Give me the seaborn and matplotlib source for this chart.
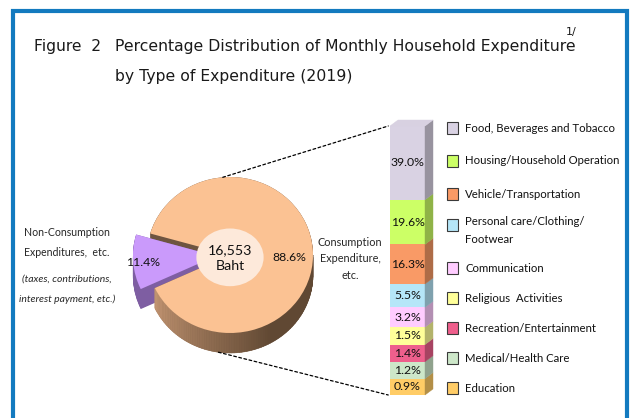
import numpy as np
import pandas as pd
import matplotlib
matplotlib.use("Agg")
import matplotlib.pyplot as plt
import matplotlib.colors as mcolors
import seaborn as sns
from matplotlib.patches import Polygon, Ellipse, Rectangle, ConnectionPatch
from matplotlib.lines import Line2D

# ---------------- data ----------------
pie_groups = ["Non-Consumption Expenditures, etc.", "Consumption Expenditure, etc."]
pie_values = [11.4, 88.6]
total_text = "16,553"
total_unit = "Baht"

categories = ["Food, Beverages and Tobacco", "Housing/Household Operation",
              "Vehicle/Transportation", "Personal care/Clothing/\nFootwear",
              "Communication", "Religious  Activities", "Recreation/Entertainment",
              "Medical/Health Care", "Education"]
shares = [39.0, 19.6, 16.3, 5.5, 3.2, 1.5, 1.4, 1.2, 0.9]
bar_colors = ["#D9D2E3", "#CCFF66", "#F99A66", "#B5E6F8", "#FFCCFF",
              "#FFFF99", "#EE5F8C", "#CDE7C9", "#FFCC66"]

title_1 = "Percentage Distribution of Monthly Household Expenditure"
title_2 = "by Type of Expenditure (2019)"

# ---------------- style ----------------
sns.set_theme(style="white")
body_fonts = ['DejaVu Sans Condensed', 'Lato', 'DejaVu Sans']
plt.rcParams['font.family'] = body_fonts

W, H = 633, 418
fig = plt.figure(figsize=(W / 100, H / 100), dpi=100)
fig.patch.set_facecolor("white")
renderer = fig.canvas.get_renderer()


def fx(x):
    return x / W


def fy(y):
    return 1 - y / H


def fit(texts, ref_text, target_px):
    """scale font size of a group of texts so ref_text spans target_px"""
    w = ref_text.get_window_extent(renderer).width
    k = target_px / w
    for t in texts:
        t.set_fontsize(t.get_fontsize() * k)


# frame
frame_col = "#137ABF"
fig.add_artist(Line2D([fx(13), fx(13), fx(626.5), fx(626.5)],
                      [fy(425), fy(11), fy(11), fy(425)],
                      transform=fig.transFigure, color=frame_col, lw=3.0,
                      solid_joinstyle="miter"))

# titles
tfont = dict(family=['DejaVu Sans'], fontsize=11.2, color="#1a1a1a", va="center")
fig.text(fx(34), fy(47), "Figure  2", **tfont)
t1 = fig.text(fx(115), fy(47), title_1, **tfont)
t2 = fig.text(fx(115), fy(77), title_2, **tfont)
fig.text(fx(566), fy(32), "1/", family=['DejaVu Sans'], fontsize=8, va="center",
         color="#1a1a1a")

# ---------------- pie (tilted 3D look) ----------------
cx_px, cy_px, rx_px, ry_px = 230, 255, 83, 78
pl, pt, pr, pb = 100, 160, 360, 372
ax_pie = fig.add_axes([fx(pl), fy(pb), (pr - pl) / W, (pb - pt) / H])
depth = 20 / ry_px
start = 164
explode = [0.17, 0.0]

orange_top, orange_side = "#FBC293", "#6E5440"
purple_top, purple_side = "#CA9AFB", "#7E5EA2"

for dz in np.linspace(depth, 0, 30):
    ax_pie.pie(pie_values, startangle=start, explode=explode, center=(0, -dz),
               colors=[purple_side, orange_side], wedgeprops=dict(linewidth=0))

# gradient on the outer front wall of the consumption slice
end_purple = start + 360 * pie_values[0] / sum(pie_values)
light = np.array(mcolors.to_rgb("#C39572"))
dark = np.array(mcolors.to_rgb("#604833"))
th = np.linspace(end_purple, 360, 90)
for t0, t1_ in zip(th[:-1], th[1:]):
    f = np.clip((0.5 * (t0 + t1_) - end_purple) / 95, 0, 1)
    col = light * (1 - f) + dark * f
    a0, a1 = np.radians(t0), np.radians(t1_)
    poly = [(np.cos(a0), np.sin(a0)), (np.cos(a1), np.sin(a1)),
            (np.cos(a1), np.sin(a1) - depth), (np.cos(a0), np.sin(a0) - depth)]
    ax_pie.add_patch(Polygon(poly, closed=True, facecolor=col, edgecolor=col, lw=0.4))

ax_pie.pie(pie_values, startangle=start, explode=explode,
           colors=[purple_top, orange_top], wedgeprops=dict(linewidth=0))
ax_pie.add_patch(Ellipse((0, -0.03), 0.81, 0.74, facecolor="#FDE9DA", edgecolor="none"))

tc = ax_pie.text(0, -0.04, f"{total_text}\n{total_unit}", ha="center", va="center",
                 fontsize=12.5, linespacing=1.3, color="#111111")
tp1 = ax_pie.text(0.72, -0.03, f"{pie_values[1]:.1f}%", ha="center", va="center",
                  fontsize=10, color="#111111")
tp0 = ax_pie.text(-1.05, -0.09, f"{pie_values[0]:.1f}%", ha="center", va="center",
                  fontsize=10, color="#111111")
ax_pie.set_aspect("auto")
ax_pie.set_xlim((pl - cx_px) / rx_px, (pr - cx_px) / rx_px)
ax_pie.set_ylim((cy_px - pb) / ry_px, (cy_px - pt) / ry_px)
ax_pie.axis("off")

# side labels
l1 = fig.text(fx(67), fy(232), "Non-Consumption", ha="center", va="center", fontsize=8.5)
l2 = fig.text(fx(67), fy(252), "Expenditures,  etc.", ha="center", va="center", fontsize=8.5)
l3 = fig.text(fx(67), fy(279), "(taxes, contributions,", ha="center", va="center",
              fontsize=7.8, style="italic")
l4 = fig.text(fx(67), fy(299), "interest payment, etc.)", ha="center", va="center",
              fontsize=7.8, style="italic")
r1 = fig.text(fx(350), fy(259), "Consumption\nExpenditure,\netc.", ha="center", va="center",
              fontsize=8.5, linespacing=1.6)

# ---------------- stacked bar ----------------
pad = 10.0  # display padding per segment so small shares stay readable
disp = [v + pad for v in shares]
df = pd.DataFrame({"category": categories, "share": shares, "disp": disp,
                   "color": bar_colors})
df = df.iloc[::-1].reset_index(drop=True)  # bottom to top
df["bottom"] = df["disp"].cumsum() - df["disp"]
total_disp = df["disp"].sum()

bx0, bx1 = 390, 425
by_bot, by_top = 395, 126
ppu = (by_bot - by_top) / total_disp
pxu = (bx1 - bx0) / 0.8
xc = (bx0 + bx1) / 2
al, ar, at, ab = 380, 450, 110, 402
ax_bar = fig.add_axes([fx(al), fy(ab), (ar - al) / W, (ab - at) / H])

for _, r in df.iterrows():
    sns.barplot(x=["all"], y=[r["disp"]], bottom=r["bottom"], color=r["color"],
                saturation=1, width=0.8, linewidth=0, ax=ax_bar)

dx, dy = 8 / pxu, 6 / ppu
bar_texts = []
for _, r in df.iterrows():
    side = np.array(mcolors.to_rgb(r["color"])) * 0.70
    b, h = r["bottom"], r["disp"]
    ax_bar.add_patch(Polygon([(0.4, b), (0.4 + dx, b + dy), (0.4 + dx, b + h + dy), (0.4, b + h)],
                             closed=True, facecolor=side, edgecolor=side, lw=0.3))
    bar_texts.append(ax_bar.text(0, b + h / 2, f"{r['share']:.1f}%", ha="center",
                                 va="center", fontsize=10, color="#111111"))
top = total_disp
topc = np.array(mcolors.to_rgb(df["color"].iloc[-1])) * 0.9 + 0.08
ax_bar.add_patch(Polygon([(-0.4, top), (-0.4 + dx, top + dy), (0.4 + dx, top + dy), (0.4, top)],
                         closed=True, facecolor=topc, edgecolor=topc, lw=0.3))
ax_bar.set_xlim((al - xc) / pxu, (ar - xc) / pxu)
ax_bar.set_ylim(-(ab - by_bot) / ppu, (by_bot - at) / ppu)
ax_bar.axis("off")

# connectors
for ang, yb in [(95, top), (262, 0.0)]:
    a = np.radians(ang)
    py = np.sin(a) - (depth if np.sin(a) < 0 else 0)
    con = ConnectionPatch(xyA=(np.cos(a), py), coordsA=ax_pie.transData,
                          xyB=(-0.44, yb), coordsB=ax_bar.transData,
                          color="black", lw=0.9, ls=(0, (2.2, 2.0)))
    fig.add_artist(con)

# ---------------- legend ----------------
row_px = [128, 161, 194, 225, 268, 298, 328, 358, 388]
leg_texts = []
for cat, col, ry in zip(categories, bar_colors, row_px):
    fig.add_artist(Rectangle((fx(447), fy(ry + 6)), 11 / W, 12 / H, transform=fig.transFigure,
                             facecolor=col, edgecolor="#3a3a3a", lw=0.8))
    if "\n" in cat:
        leg_texts.append(fig.text(fx(465), fy(ry - 9), cat, ha="left", va="top", fontsize=9.3,
                                  linespacing=1.75, color="#111111"))
    else:
        leg_texts.append(fig.text(fx(465), fy(ry), cat, ha="left", va="center",
                                  fontsize=9.3, color="#111111"))

# size texts to the widths seen in the reference
fit(leg_texts, leg_texts[0], 149)
fit(bar_texts + [tp0, tp1], bar_texts[-1], 34)
fit([tc], tc, 44)
fit([l1, l2], l1, 86)
fit([r1], r1, 64)
fit([l3, l4], l3, 90)
fit([t1, t2], t1, 458)

fig.savefig("out.png", dpi=100, facecolor="white")
